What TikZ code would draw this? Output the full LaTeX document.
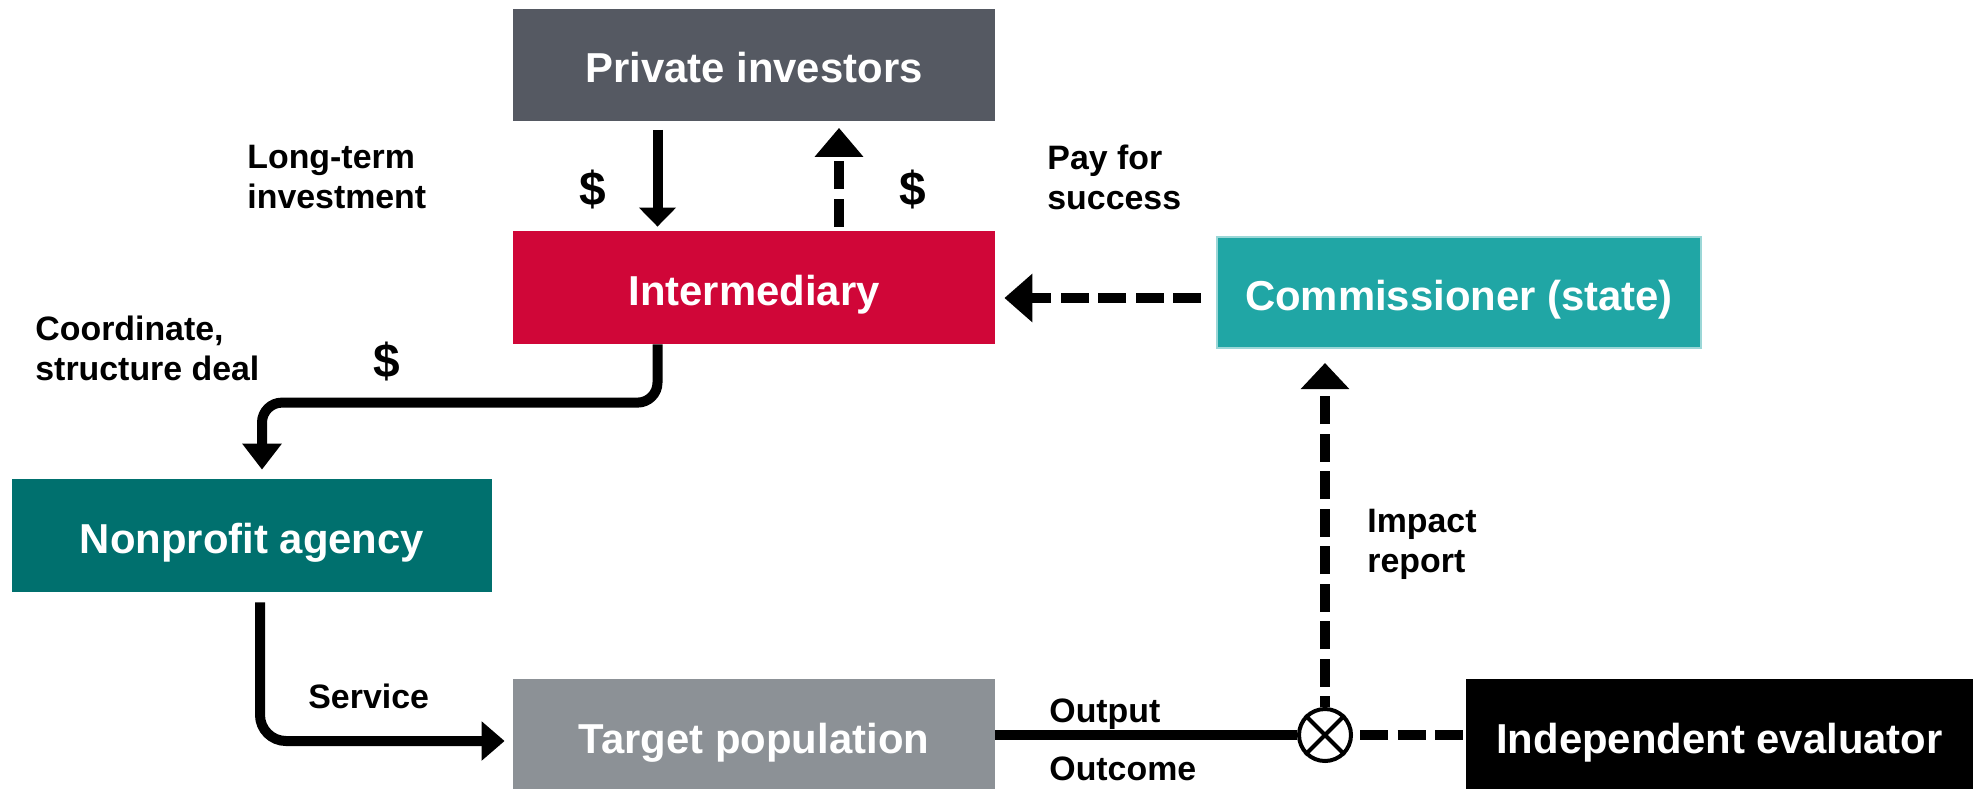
\documentclass[tikz,border=0pt]{standalone}
\usepackage{fontspec}
\setmainfont{Liberation Sans}
\usetikzlibrary{arrows.meta,calc}

\definecolor{investgray}{RGB}{85,89,98}
\definecolor{interred}{RGB}{208,6,56}
\definecolor{stateteal}{RGB}{32,166,165}
\definecolor{agencyteal}{RGB}{0,112,110}
\definecolor{popgray}{RGB}{140,145,150}

\begin{document}
\begin{tikzpicture}[x=0.5bp,y=-0.5bp,
  box/.style={rectangle, minimum width=241bp, minimum height=56bp, inner sep=0pt,
    text=white, text height=18bp, text depth=0bp,
    font=\fontsize{21}{25}\selectfont\bfseries},
  lbl/.style={inner sep=0pt, align=left, font=\fontsize{17}{20}\selectfont\bfseries},
  cash/.style={inner sep=0pt, font=\fontsize{24}{28}\selectfont\bfseries},
  flow/.style={line width=5bp},
  dashflow/.style={line width=5bp, dash pattern=on 14bp off 4.75bp},
]
\useasboundingbox (0,0) rectangle (1975,788);
\clip (0,0) rectangle (1975,788);

% parties
\node[box, fill=investgray] (pi) at (754,64.5) {Private investors};
\node[box, fill=interred, minimum height=56.5bp] (im) at (754,287.5) {Intermediary};
\node[box, fill=stateteal, draw=stateteal!45!white, line width=1bp,
      minimum width=242bp, minimum height=55.5bp] (cm) at (1459,292.5) {Commissioner (state)};
\node[box, fill=agencyteal, minimum width=240bp, minimum height=56.5bp] (np) at (252,535.5) {Nonprofit agency};
\node[box, fill=popgray] (tp) at (754,735) {Target population};
\node[box, fill=black, minimum width=253.5bp] (ev) at (1719.5,735) {Independent evaluator};

% measurement junction
\node[circle, draw, line width=2bp, minimum size=26bp, inner sep=0pt, fill=white] (ox) at (1325,735) {};
\draw[line width=2bp] (ox.north west) -- (ox.south east) (ox.north east) -- (ox.south west);

% money and information flows
\draw[flow, -{Triangle[width=18bp,length=9.5bp]}]
  ($(pi.south)+(-96.5,9)$) -- ($(im.north)+(-96.5,-4)$);
\draw[dashflow, -{Triangle[width=23.5bp,length=14.5bp]}]
  ($(im.north)+(85,-4)$) -- ($(pi.south)+(85,7)$);
\draw[dashflow, -{Triangle[width=23.5bp,length=14bp]}]
  ($(cm.west)+(-15,5.5)$) -- ($(im.east)+(9,10.5)$);
\draw[flow, rounded corners=10bp, -{Triangle[width=19bp,length=13bp]}]
  ($(im.south)+(-96.5,0)$) |- ($(np.north)+(10,-76)$) -- ($(np.north)+(10,-9)$);
\draw[flow, rounded corners=13bp, -{Triangle[width=19bp,length=11.5bp]}]
  ($(np.south)+(8,10)$) |- ($(tp.west)+(-8,6)$);
\draw[flow] (tp.east) -- (ox.west);
\draw[dashflow] ($(ox.east)+(7,0)$) -- (ev.west);
\draw[dashflow, dash phase=8.5bp, -{Triangle[width=23.5bp,length=13bp]}]
  (ox.north) -- ($(cm.south)+(-134,14)$);

% labels
\node[lbl, anchor=north west] (lt) at (247,145) {Long-term\\investment};
\node[lbl, anchor=north west] (ps) at (1047,145) {Pay for\\success};
\node[lbl, anchor=north west] (cd) at (35,316) {Coordinate,\\structure deal};
\node[lbl, anchor=north west] (ir) at (1367,509) {Impact\\report};
\node[lbl, anchor=base west] (sv) at (308,708) {Service};
\node[lbl, anchor=base west] (op) at (1049,722) {Output};
\node[lbl, anchor=base west] (oc) at (1049,780) {Outcome};
\node[cash] (c1) at (593,190) {\$};
\node[cash] (c2) at (913,190) {\$};
\node[cash] (c3) at (387,361.5) {\$};
\end{tikzpicture}
\end{document}
